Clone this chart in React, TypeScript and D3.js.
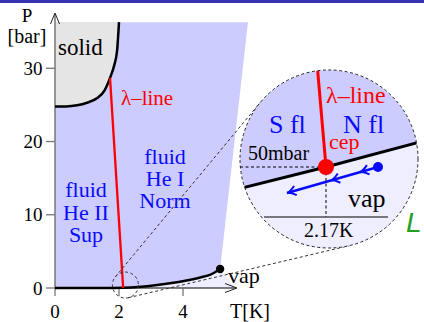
import React from "react";
import * as d3 from "d3";

const W = 424, H = 322;

// ---- data ----
const xTicks = [0, 2, 4];
const yTicks = [0, 10, 20, 30];
const solidT = [0, 0.35, 0.69, 1.0, 1.31, 1.55, 1.72, 1.85, 1.94, 2.0];
const solidP = [24.8, 24.8, 24.95, 25.3, 25.9, 27.0, 28.7, 30.4, 32.4, 36.3];
const vapT = [0, 1.0, 1.6, 2.13, 2.6, 3.19, 3.7, 4.2, 4.6, 4.84, 5.16];
const vapP = [0, 0, 0.01, 0.04, 0.14, 0.4, 0.72, 1.1, 1.5, 1.8, 2.6];
const lambdaT = [1.72, 2.13];
const lambdaP = [28.7, 0.0];
const critT = 5.16, critP = 2.6;
const topP = 36.3;
const fluidEdgeT = 6.03;
const zoomT = 2.2, zoomP = 0.4;

// inset (zoomed) data: T in K, P in mbar
const insVapT = [2.05, 2.17, 2.29];
const insVapP = [42.5, 50, 58];
const insLamT = [2.17, 2.161];
const insLamP = [50, 76];
const cepT = 2.17, cepP = 50;
const pathT = [2.222, 2.131];
const pathP = [50, 43.5];
const chordP = 37.5;
const chordT = [2.108, 2.232];

export default function App() {
  const x = d3.scaleLinear().domain([0, 4]).range([55, 183]);
  const y = d3.scaleLinear().domain([0, 30]).range([288, 68.3]);
  const ix = d3.scaleLinear().domain([2.17, 2.27]).range([326, 426]);
  const iy = d3.scaleLinear().domain([50, 60]).range([167, 127]);

  const line = d3.line<[number, number]>().x(d => x(d[0])).y(d => y(d[1])).curve(d3.curveMonotoneX);
  const iline = d3.line<[number, number]>().x(d => ix(d[0])).y(d => iy(d[1])).curve(d3.curveMonotoneX);

  const solidPts = solidT.map((t, i) => [t, solidP[i]] as [number, number]);
  const vapPts = vapT.map((t, i) => [t, vapP[i]] as [number, number]);
  const lamPts = lambdaT.map((t, i) => [t, lambdaP[i]] as [number, number]);

  const grayPath = line(solidPts) + `L${x(0)},${y(topP)}Z`;
  const bluePath = `M${x(0)},${y(0)}L${x(0)},${y(topP)}L${x(fluidEdgeT)},${y(topP)}L${x(critT)},${y(critP)}L${x(critT)},${y(0)}Z`;
  const lightArea = d3.area<[number, number]>().x(d => x(d[0])).y0(y(0)).y1(d => y(d[1])).curve(d3.curveMonotoneX)(vapPts);
  const lightTri = `M${x(critT)},${y(critP)}L${x(5.65)},${y(0)}L${x(critT)},${y(0)}Z`;

  // inset circle
  const cx = 329, cy = 159, R = 89;
  const sx = x(zoomT), sy = y(zoomP), r = 13;
  const dx = cx - sx, dy = cy - sy, D = Math.hypot(dx, dy);
  const base = Math.atan2(dy, dx), off = Math.acos((R - r) / D);
  const tangents = [base + off, base - off].map(a => {
    const nx = -Math.cos(a), ny = -Math.sin(a);
    return [sx + r * nx, sy + r * ny, cx + R * nx, cy + R * ny];
  });

  const insVapPts = insVapT.map((t, i) => [t, insVapP[i]] as [number, number]);
  const insLamPts = insLamT.map((t, i) => [t, insLamP[i]] as [number, number]);
  const vapLineStr = iline(insVapPts)!;
  const lowerPoly = vapLineStr + `L${ix(2.29)},${cy + R + 5}L${ix(2.05)},${cy + R + 5}Z`;

  const p0x = ix(pathT[0]), p0y = iy(pathP[0]);
  const p1x = ix(pathT[1]), p1y = iy(pathP[1]);
  const ang = Math.atan2(p1y - p0y, p1x - p0x);
  const chevron = (f: number) => {
    const tx = p0x + (p1x - p0x) * f, ty = p0y + (p1y - p0y) * f;
    const L = 10, a = 0.5;
    const bx1 = tx - L * Math.cos(ang - a), by1 = ty - L * Math.sin(ang - a);
    const bx2 = tx - L * Math.cos(ang + a), by2 = ty - L * Math.sin(ang + a);
    const mx = tx - 3 * Math.cos(ang), my = ty - 3 * Math.sin(ang);
    return `M${bx1},${by1}Q${mx},${my} ${tx},${ty}Q${mx},${my} ${bx2},${by2}`;
  };

  const serif = "'Liberation Serif', 'Times New Roman', serif";
  const blue = "#0a0aff";

  return (
    <svg width={W} height={H} style={{ position: "absolute", left: 0, top: 0, background: "#fff" }} fontFamily={serif}>
      <defs>
        <clipPath id="inset"><circle cx={cx} cy={cy} r={R} /></clipPath>
      </defs>
      <rect x={0} y={0} width={W} height={3} fill="#3333b2" />

      {/* regions */}
      <path d={bluePath} fill="#ccccff" />
      <path d={grayPath} fill="#e5e5e5" />
      <path d={lightArea!} fill="#eeeeff" />
      <path d={lightTri} fill="#eeeeff" />

      {/* axes */}
      <line x1={x(0)} y1={y(0)} x2={x(0)} y2={14} stroke="#777" strokeWidth={1.5} />
      <path d={`M${x(0) - 4.5},${24}L${x(0)},${13}L${x(0) + 4.5},${24}`} fill="none" stroke="#222" strokeWidth={1} />
      <line x1={x(0)} y1={y(0)} x2={236} y2={y(0)} stroke="#000" strokeWidth={1} />
      <path d={`M${225},${y(0) - 4.5}L${237},${y(0)}L${225},${y(0) + 4.5}`} fill="none" stroke="#222" strokeWidth={1} />
      {yTicks.map(t => (
        <g key={"y" + t}>
          <line x1={x(0) - 9} x2={x(0)} y1={y(t)} y2={y(t)} stroke="#777" strokeWidth={1.3} />
          <text x={42.5} y={y(t) + 6.7} fontSize={19} textAnchor="end">{t}</text>
        </g>
      ))}
      {xTicks.map(t => (
        <g key={"x" + t}>
          <line x1={x(t)} x2={x(t)} y1={y(0)} y2={y(0) + 8} stroke="#777" strokeWidth={1.3} />
          <text x={x(t)} y={318} fontSize={19} textAnchor="middle">{t}</text>
        </g>
      ))}
      <text x={27} y={22} fontSize={19} textAnchor="middle">P</text>
      <text x={27} y={43} fontSize={20} textAnchor="middle">[bar]</text>
      <text x={230} y={318} fontSize={20}>T[K]</text>

      {/* curves */}
      <path d={line(solidPts)!} fill="none" stroke="#000" strokeWidth={2.5} />
      <path d={line(vapPts)!} fill="none" stroke="#000" strokeWidth={2.5} />
      <path d={line(lamPts)!} fill="none" stroke="#ff0000" strokeWidth={2.3} />
      <circle cx={x(critT)} cy={y(critP)} r={4.2} fill="#000" />

      {/* labels */}
      <text x={58} y={55} fontSize={23}>solid</text>
      <text x={121} y={105} fontSize={21} fill="#ff0000">λ–line</text>
      <g fill={blue} fontSize={22} textAnchor="middle">
        <text x={165} y={164}>fluid</text>
        <text x={165} y={186}>He I</text>
        <text x={165} y={208}>Norm</text>
        <text x={86} y={197}>fluid</text>
        <text x={86} y={220}>He II</text>
        <text x={86} y={242}>Sup</text>
      </g>
      <text x={228} y={283} fontSize={22}>vap</text>

      {/* zoom indicators */}
      <circle cx={sx} cy={sy} r={r} fill="none" stroke="#333" strokeWidth={1} strokeDasharray="3,2.5" />
      {tangents.map((tg, i) => (
        <line key={i} x1={tg[0]} y1={tg[1]} x2={tg[2]} y2={tg[3]} stroke="#333" strokeWidth={1} strokeDasharray="3,2.5" />
      ))}

      {/* inset */}
      <g clipPath="url(#inset)">
        <circle cx={cx} cy={cy} r={R} fill="#ccccff" />
        <path d={lowerPoly} fill="#eeeeff" />
        <line x1={cx - R} y1={iy(cepP)} x2={ix(cepT)} y2={iy(cepP)} stroke="#000" strokeWidth={1} strokeDasharray="3,2.5" />
        <line x1={ix(cepT)} y1={iy(cepP)} x2={ix(cepT)} y2={iy(chordP)} stroke="#000" strokeWidth={1} strokeDasharray="3,2.5" />
        <line x1={ix(chordT[0])} y1={iy(chordP)} x2={ix(chordT[1])} y2={iy(chordP)} stroke="#000" strokeWidth={1} />
        <path d={vapLineStr} fill="none" stroke="#000" strokeWidth={3} />
        <path d={iline(insLamPts)!} fill="none" stroke="#ff0000" strokeWidth={3} />
        <line x1={p0x} y1={p0y} x2={p1x} y2={p1y} stroke={blue} strokeWidth={2.5} />
        {[0.2, 0.52, 1].map(f => (
          <path key={f} d={chevron(f)} fill="none" stroke={blue} strokeWidth={2} />
        ))}
        <circle cx={p0x} cy={p0y} r={5} fill={blue} />
        <circle cx={ix(cepT)} cy={iy(cepP)} r={8} fill="#ff0000" />
        <text x={326} y={103} fontSize={24} fill="#ff0000">λ–line</text>
        <text x={269} y={133} fontSize={26} fill={blue}>S fl</text>
        <text x={343} y={133} fontSize={26} fill={blue}>N fl</text>
        <text x={329} y={149} fontSize={22} fill="#ff0000">cep</text>
        <text x={248} y={160} fontSize={20}>50mbar</text>
        <text x={348} y={207} fontSize={26}>vap</text>
        <text x={304} y={237} fontSize={20}>2.17K</text>
      </g>
      <circle cx={cx} cy={cy} r={R} fill="none" stroke="#222" strokeWidth={1} strokeDasharray="3,2.5" />
      <text x={406} y={232} fontSize={28} fontStyle="italic" fill="#1fa01f" fontFamily="'Liberation Sans', Arial, sans-serif">L</text>
    </svg>
  );
}
